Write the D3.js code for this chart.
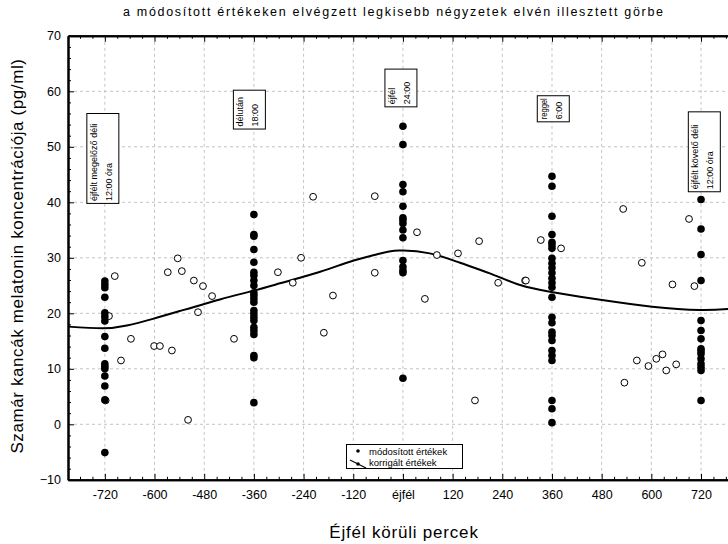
<!DOCTYPE html>
<html>
<head>
<meta charset="utf-8">
<script src="https://cdn.jsdelivr.net/npm/d3@7"></script>
<style>
  body { margin: 0; background: #fff; }
  svg { display: block; font-family: "Liberation Sans", Arial, sans-serif; }
</style>
</head>
<body>
<div id="chart"></div>
<script>
var width = 728, height = 544;
var margin = {top: 35.8, left: 68, right: 730, bottom: 479.8};

// kitöltött pontok: módosított értékek (perc, pg/ml)
var modMinutes = [-720, -360, 0, 360, 720];
var modValues = [
  [25.8, 25.2, 24.6, 22.9, 20.1, 19.4, 18.6, 15.8, 13.7, 10.9, 10.4, 10.0, 8.7, 6.9, 4.4, -5.1],
  [37.8, 34.2, 33.9, 31.5, 29.2, 27.4, 26.8, 25.9, 25.0, 23.7, 23.2, 22.6, 22.0, 20.5, 19.9, 19.3, 18.7, 17.5, 16.9, 16.2, 12.4, 12.0, 3.9],
  [53.7, 50.4, 43.2, 41.9, 39.3, 37.2, 36.8, 36.2, 35.0, 33.6, 29.5, 28.4, 27.7, 27.3, 8.3],
  [44.7, 42.9, 37.5, 34.2, 32.8, 32.3, 31.7, 29.9, 29.0, 28.2, 27.3, 26.3, 25.5, 24.7, 22.9, 19.3, 18.3, 16.6, 16.0, 15.1, 13.3, 12.4, 11.5, 4.3, 2.8, 0.3],
  [40.5, 35.2, 30.6, 25.9, 18.7, 16.9, 15.4, 13.6, 13.2, 12.7, 11.8, 10.9, 10.3, 9.7, 4.3]
];

// üres körök: korrigált értékek
var corrMinutes = [-696, -710, -657, -681, -718, -601, -587, -558, -568, -544, -534, -505, -483, -495, -461, -519, -408,
  -302, -266, -246, -217, -191, -169, -68, -68,
  34, 53, 82, 133, 184, 174, 230, 295,
  333, 382, 297, 532, 577, 651, 704, 691, 565, 593, 612, 627, 636, 660, 535];
var corrValues = [26.7, 19.5, 15.4, 11.5, 4.3, 14.1, 14.1, 13.3, 27.4, 29.9, 27.6, 25.9, 24.9, 20.2, 23.1, 0.8, 15.4,
  27.4, 25.5, 30.0, 41.0, 16.5, 23.2, 41.1, 27.3,
  34.6, 22.6, 30.5, 30.8, 33.0, 4.3, 25.5, 25.9,
  33.2, 31.7, 25.9, 38.8, 29.1, 25.2, 24.9, 37.0, 11.5, 10.5, 11.8, 12.6, 9.7, 10.8, 7.5];

// illesztett görbe leolvasott pontjai
var fitMinutes = [-809, -725, -667, -604, -539, -442, -370, -297, -200, -128, -64, -10, 65, 138, 210, 283, 355, 428, 481, 602, 718, 790];
var fitValues = [17.6, 17.3, 17.8, 19.0, 20.4, 22.5, 23.9, 25.4, 27.5, 29.3, 30.6, 31.3, 30.8, 29.1, 27.2, 25.1, 23.9, 23.0, 22.4, 21.2, 20.6, 20.8];

var xTicks = [-720, -600, -480, -360, -240, -120, 0, 120, 240, 360, 480, 600, 720];
var xTickLabels = ["-720", "-600", "-480", "-360", "-240", "-120", "éjfél", "120", "240", "360", "480", "600", "720"];
var yTicks = [-10, 0, 10, 20, 30, 40, 50, 60, 70];

var notes = [
  {m: -720, lines: ["éjfélt megelőző déli", "12:00 óra"], top: 56.0, bottom: 39.8},
  {m: -360, lines: ["délután", "18:00"], top: 60.2, bottom: 53.2},
  {m: 0, lines: ["éjfél", "24:00"], top: 64.0, bottom: 57.2},
  {m: 360, lines: ["reggel", "6:00"], top: 59.2, bottom: 54.5},
  {m: 720, lines: ["éjfélt követő déli", "12:00 óra"], top: 56.3, bottom: 41.9}
];
// dobozok bal széle a jelölt perc vonalához képest (px)
var noteShift = [-18, -20.5, -18, -14.7, -12.7];

var svg = d3.select("#chart")
  .append("svg")
  .attr("width", width)
  .attr("height", height);

var xScale = d3.scaleLinear()
  .domain([-809, 790])
  .range([margin.left, margin.right]);

var yScale = d3.scaleLinear()
  .domain([-10, 70])
  .range([margin.bottom, margin.top]);

svg.append("clipPath").attr("id", "plot")
  .append("rect")
  .attr("x", margin.left).attr("y", margin.top)
  .attr("width", margin.right - margin.left)
  .attr("height", margin.bottom - margin.top);

// rácsvonalak
var grid = svg.append("g").attr("stroke", "#c4c4c4").attr("stroke-dasharray", "3,3");
grid.selectAll(".gx").data(xTicks).enter().append("line")
  .attr("x1", d => xScale(d)).attr("x2", d => xScale(d))
  .attr("y1", margin.top).attr("y2", margin.bottom);
grid.selectAll(".gy").data(yTicks.slice(1, -1)).enter().append("line")
  .attr("x1", margin.left).attr("x2", margin.right)
  .attr("y1", d => yScale(d)).attr("y2", d => yScale(d));

// tengelyek
var minorX = d3.range(-780, 790, 30).filter(d => d % 120 != 0);
var xAxis = svg.append("g")
  .attr("transform", `translate(0,${margin.bottom})`)
  .call(d3.axisBottom(xScale).tickValues(xTicks).tickSize(-6).tickSizeOuter(0).tickPadding(12)
    .tickFormat((d, i) => xTickLabels[i]));
svg.append("g")
  .attr("transform", `translate(0,${margin.bottom})`)
  .call(d3.axisBottom(xScale).tickValues(minorX).tickSize(-3).tickSizeOuter(0).tickFormat(""));
svg.append("g")
  .attr("transform", `translate(0,${margin.top})`)
  .call(d3.axisTop(xScale).tickValues(xTicks).tickSize(-6).tickSizeOuter(0).tickFormat(""));
svg.append("g")
  .attr("transform", `translate(0,${margin.top})`)
  .call(d3.axisTop(xScale).tickValues(minorX).tickSize(-3).tickSizeOuter(0).tickFormat(""));

var yAxis = svg.append("g")
  .attr("transform", `translate(${margin.left},0)`)
  .call(d3.axisLeft(yScale).tickValues(yTicks).tickSize(-6).tickSizeOuter(0).tickPadding(7));
svg.append("g")
  .attr("transform", `translate(${margin.left},0)`)
  .call(d3.axisLeft(yScale).tickValues(d3.range(-8, 70, 2).filter(d => d % 10 != 0)).tickSize(-3).tickSizeOuter(0).tickFormat(""));

svg.selectAll(".domain").attr("stroke", "#000").attr("stroke-width", 2);
svg.selectAll(".tick line").attr("stroke", "#000");
svg.selectAll(".tick text").attr("font-size", 12.5).attr("fill", "#000")
  .attr("font-family", "Liberation Sans, Arial, sans-serif");
xAxis.selectAll(".tick text").attr("dy", "0.6em");

// illesztett görbe
var line = d3.line()
  .x((d, i) => xScale(fitMinutes[i]))
  .y(d => yScale(d))
  .curve(d3.curveNatural);
svg.append("path")
  .datum(fitValues)
  .attr("clip-path", "url(#plot)")
  .attr("d", line)
  .attr("fill", "none")
  .attr("stroke", "#000")
  .attr("stroke-width", 2);

// korrigált értékek
svg.append("g").attr("clip-path", "url(#plot)")
  .selectAll("circle").data(corrValues).enter().append("circle")
  .attr("cx", (d, i) => xScale(corrMinutes[i]))
  .attr("cy", d => yScale(d))
  .attr("r", 3.4)
  .attr("fill", "#fff")
  .attr("stroke", "#000")
  .attr("stroke-width", 1);

// módosított értékek
var modPoints = [];
modMinutes.forEach((m, i) => modValues[i].forEach(v => modPoints.push({m: m, v: v})));
svg.append("g").attr("clip-path", "url(#plot)")
  .selectAll("circle").data(modPoints).enter().append("circle")
  .attr("cx", d => xScale(d.m))
  .attr("cy", d => yScale(d.v))
  .attr("r", 3.8)
  .attr("fill", "#000");

// megjegyzés dobozok
notes.forEach(function(n, i) {
  var x0 = xScale(n.m) + noteShift[i];
  var y0 = yScale(n.top), y1 = yScale(n.bottom);
  var g = svg.append("g");
  g.append("rect")
    .attr("x", x0).attr("y", y0)
    .attr("width", 32).attr("height", y1 - y0)
    .attr("fill", "#fff").attr("stroke", "#000").attr("stroke-width", 1);
  n.lines.forEach(function(t, k) {
    var txt = g.append("text")
      .attr("transform", `translate(${x0 + 10 + k * 15},${y1 - 2.5}) rotate(-90)`)
      .attr("font-size", 9)
      .text(t);
    var room = (y1 - y0) - 5;
    if (txt.node().getComputedTextLength() > room) {
      txt.attr("textLength", room).attr("lengthAdjust", "spacingAndGlyphs");
    }
  });
});

// jelmagyarázat
var leg = svg.append("g");
leg.append("rect").attr("x", 346.5).attr("y", 444.5).attr("width", 116).attr("height", 24)
  .attr("fill", "#fff").attr("stroke", "#000");
leg.append("circle").attr("cx", 358).attr("cy", 451).attr("r", 1.8).attr("fill", "#000");
leg.append("line").attr("x1", 350).attr("y1", 460).attr("x2", 366).attr("y2", 468)
  .attr("stroke", "#000").attr("stroke-width", 1.2);
leg.append("circle").attr("cx", 358).attr("cy", 464).attr("r", 1.8).attr("fill", "#000");
leg.append("text").attr("x", 369).attr("y", 455).attr("font-size", 9.5).text("módosított értékek");
leg.append("text").attr("x", 369).attr("y", 466).attr("font-size", 9.5).text("korrigált értékek");

// címek
svg.append("text")
  .attr("x", 123).attr("y", 16)
  .attr("font-size", 12.5)
  .attr("textLength", 540)
  .attr("lengthAdjust", "spacing")
  .text("a módosított értékeken elvégzett legkisebb négyzetek elvén illesztett görbe");

svg.append("text")
  .attr("x", 404).attr("y", 538)
  .attr("text-anchor", "middle")
  .attr("font-size", 17)
  .attr("letter-spacing", 0.8)
  .text("Éjfél körüli percek");

svg.append("text")
  .attr("transform", "translate(23,256) rotate(-90)")
  .attr("text-anchor", "middle")
  .attr("font-size", 17)
  .attr("letter-spacing", 0.6)
  .text("Szamár kancák melatonin koncentrációja (pg/ml)");
</script>
</body>
</html>
